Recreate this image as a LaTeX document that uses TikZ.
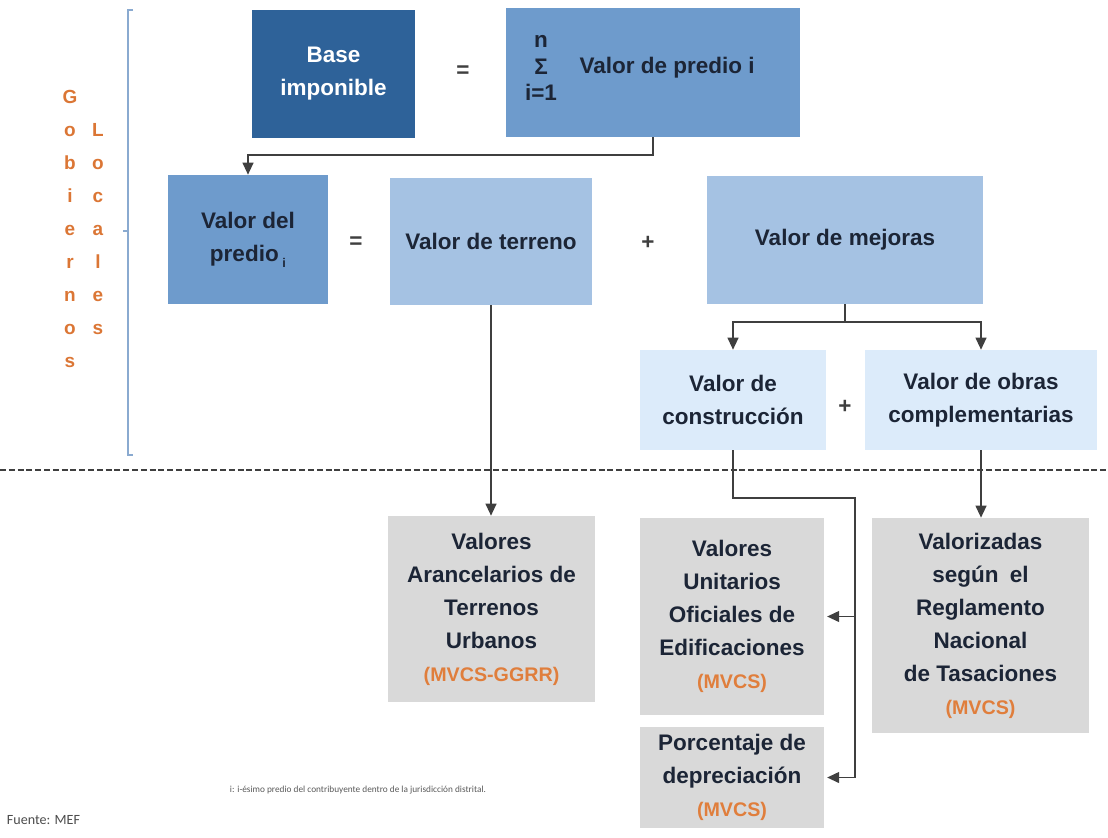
\documentclass[tikz,border=0pt]{standalone}
\usepackage{fontspec}
\setmainfont{Liberation Sans}
\newfontfamily\notefont{Carlito}
\usepackage{tikz}
\usetikzlibrary{arrows.meta}
\usetikzlibrary{positioning}
\tikzset{>={Triangle[length=3mm,width=2.7mm]}}
\definecolor{darkblue}{HTML}{2E6299}
\definecolor{midblue}{HTML}{6E9BCC}
\definecolor{lightblue}{HTML}{A5C2E3}
\definecolor{paleblue}{HTML}{DCEBFA}
\definecolor{boxgray}{HTML}{D9D9D9}
\definecolor{navy}{HTML}{1C2536}
\definecolor{mvcs}{HTML}{E07E3C}
\definecolor{govorange}{HTML}{DB7635}
\definecolor{linegray}{HTML}{3F3F3F}
\definecolor{bracketblue}{HTML}{8AAAD0}
\tikzset{
    box/.style={rectangle, inner sep=0pt, align=center, text=navy,
        font=\fontsize{16}{23.5}\selectfont\bfseries},
    conn/.style={->, draw=linegray, line width=1.2pt},
    sign/.style={text=linegray, font=\fontsize{16}{20}\selectfont\bfseries},
    vlet/.style={text=govorange, text height=9.5pt, text depth=0pt,
        font=\fontsize{13.5}{15}\selectfont\bfseries},
}
\newcommand{\mvcslbl}[1]{{\fontsize{14}{20}\selectfont\color{mvcs}#1}}

\begin{document}
\begin{tikzpicture}[x=0.025cm, y=-0.025cm] % base imponible del predial
	\useasboundingbox (0,0) rectangle (1108,837);
	\draw[bracketblue, line width=0.8pt] (133,10) -- (128,10) -- (128,455) -- (133,455);
	\draw[bracketblue, line width=0.8pt] (128,231) -- (123,231);
	\foreach \c [count=\k] in {G,o,b,i,e,r,n,o,s}
		\node[vlet] (gob\k) at (70,{97+33*(\k-1)}) {\c};
	\foreach \c [count=\k] in {L,o,c,a,l,e,s}
		\node[vlet] (loc\k) at (98,{130+33*(\k-1)}) {\c};
	\node[box, fill=darkblue, text=white, minimum width=4.075cm, minimum height=3.2cm] (base) at (333.5,74) {Base\\imponible};
	\node[sign] (eq1) at (463,72) {=};
	\node[box, fill=midblue, minimum width=7.35cm, minimum height=3.225cm] (sum) at (653,72.5) {};
	\node[box, font=\fontsize{16}{19}\selectfont\bfseries] (sumop) at (541,68) {n\\Σ\\i=1};
	\node[box, right=0.55cm of sumop] (sumtxt) {Valor de predio i};
	\node[box, fill=midblue, minimum width=4cm, minimum height=3.225cm] (predio) at (248,239.5) {Valor del\\predio\,\raisebox{-0.5ex}{\fontsize{9}{9}\selectfont i}};
	\node[sign] (eq2) at (356,243) {=};
	\node[box, fill=lightblue, minimum width=5.05cm, minimum height=3.175cm] (terreno) at (491,241.5) {Valor de terreno};
	\node[sign] (plus1) at (648,243) {+};
	\node[box, fill=lightblue, minimum width=6.9cm, minimum height=3.2cm] (mejoras) at (845,240) {Valor de mejoras};
	\node[box, fill=paleblue, minimum width=4.65cm, minimum height=2.5cm] (constr) at (733,400) {Valor de\\construcción};
	\node[sign] (plus2) at (845,407) {+};
	\node[box, fill=paleblue, minimum width=5.8cm, minimum height=2.5cm] (obras) at (981,400) {Valor de obras\\complementarias};
	\draw[linegray, line width=1pt, dash pattern=on 1.5mm off 0.7mm] (0,470) -- (1108,470);
	\node[box, fill=boxgray, minimum width=5.175cm, minimum height=4.65cm] (arancel) at (491.5,609) {Valores\\Arancelarios de\\Terrenos\\Urbanos\\\mvcslbl{(MVCS-GGRR)}};
	\node[box, fill=boxgray, minimum width=4.6cm, minimum height=4.925cm] (unitarios) at (732,616.5) {Valores\\Unitarios\\Oficiales de\\Edificaciones\\\mvcslbl{(MVCS)}};
	\node[box, fill=boxgray, minimum width=4.6cm, minimum height=2.525cm] (porcent) at (732,777.5) {Porcentaje de\\depreciación\\\mvcslbl{(MVCS)}};
	\node[box, fill=boxgray, minimum width=5.425cm, minimum height=5.375cm] (valoriz) at (980.5,625.5) {Valorizadas\\según\enspace el\\Reglamento\\Nacional\\de Tasaciones\\\mvcslbl{(MVCS)}};
	\coordinate (bus) at (855,498);
	\draw[conn] (sum.south) -- ++(0,18) -| (predio.north);
	\draw[conn] (mejoras.south) -- ++(0,18) -| (constr.north);
	\draw[conn] (mejoras.south) -- ++(0,18) -| (obras.north);
	\draw[conn] (terreno.south) -- (terreno.south |- arancel.north);
	\draw[conn] (obras.south) -- (obras.south |- valoriz.north);
	\draw[conn] (constr.south) |- (bus) |- ([xshift=2pt]porcent.east);
	\draw[conn] (bus |- unitarios.east) -- ([xshift=2pt]unitarios.east);
	\node[anchor=west, text=black!65, font=\notefont\fontsize{6.6}{7}\selectfont] (nota) at (225,790) {i: i-ésimo predio del contribuyente dentro de la jurisdicción distrital.};
	\node[anchor=west, text=black!70, font=\notefont\fontsize{10}{11}\selectfont] (fuente) at (2,820) {Fuente: MEF};
\end{tikzpicture}
\end{document}
